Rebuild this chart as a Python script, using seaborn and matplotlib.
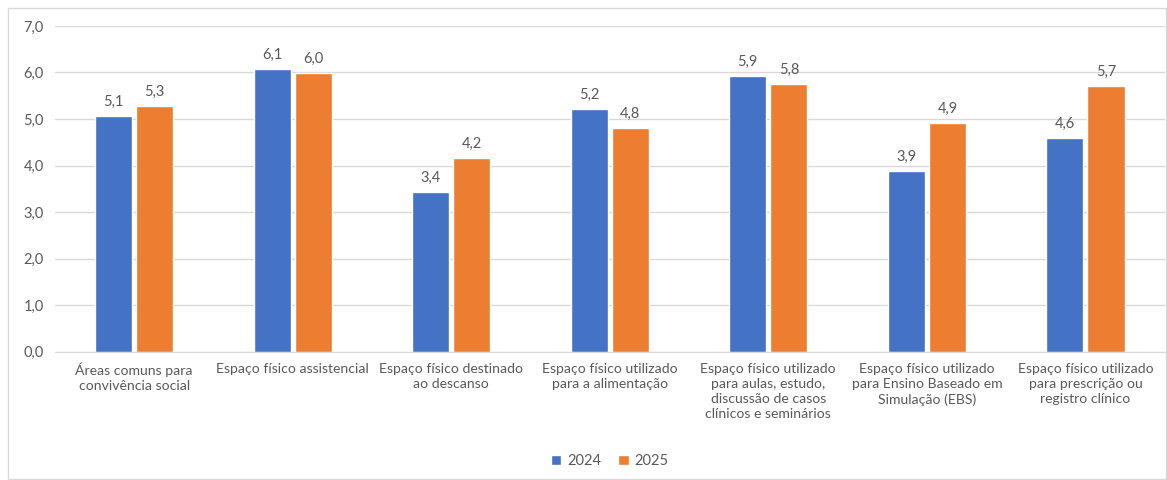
import pandas as pd
import seaborn as sns
import matplotlib.pyplot as plt
from matplotlib.patches import Rectangle

categories = [
    "Áreas comuns para\nconvivência social",
    "Espaço físico assistencial",
    "Espaço físico destinado\nao descanso",
    "Espaço físico utilizado\npara a alimentação",
    "Espaço físico utilizado\npara aulas, estudo,\ndiscussão de casos\nclínicos e seminários",
    "Espaço físico utilizado\npara Ensino Baseado em\nSimulação (EBS)",
    "Espaço físico utilizado\npara prescrição ou\nregistro clínico",
]
values_2024 = [5.06, 6.07, 3.44, 5.21, 5.92, 3.88, 4.59]
values_2025 = [5.28, 5.99, 4.16, 4.81, 5.76, 4.92, 5.72]
years = ["2024", "2025"]

df = pd.DataFrame({
    "categoria": categories * 2,
    "ano": [years[0]] * len(categories) + [years[1]] * len(categories),
    "valor": values_2024 + values_2025,
})

sns.set_style("white")
plt.rcParams["font.family"] = ["Lato", "DejaVu Sans"]
text_color = "#595959"

fig = plt.figure(figsize=(11.67, 4.8), dpi=100)
ax = fig.add_axes([0.047, 0.267, 0.951, 0.679])

sns.barplot(data=df, x="categoria", y="valor", hue="ano",
            palette=["#4472C4", "#ED7D31"], width=0.52, gap=0.1,
            saturation=1, ax=ax, legend=True)

for cont in ax.containers:
    ax.bar_label(cont, labels=[f"{v:.1f}".replace(".", ",") for v in cont.datavalues],
                 padding=5, fontsize=10.5, color=text_color)

ax.set_ylim(0, 7)
ax.set_yticks(range(0, 8))
ax.set_yticklabels([f"{v},0" for v in range(0, 8)], fontsize=10.5, color=text_color)
ax.set_xticks(range(len(categories)))
ax.set_xticklabels(categories, fontsize=10.1, color=text_color, linespacing=1.3)
ax.set_xlabel("")
ax.set_ylabel("")
ax.tick_params(axis="both", length=0, pad=8)
ax.yaxis.grid(True, color="#D9D9D9", linewidth=1)
ax.set_axisbelow(True)
for s in ["top", "right", "left"]:
    ax.spines[s].set_visible(False)
ax.spines["bottom"].set_color("#D9D9D9")
ax.set_xlim(-0.5, len(categories) - 0.5)

handles, labels = ax.get_legend_handles_labels()
ax.legend(handles, labels, loc="center", bbox_to_anchor=(0.5, -0.335),
          ncol=2, frameon=False, fontsize=10.5, labelcolor=text_color,
          handlelength=0.7, handleheight=0.7, handletextpad=0.4, columnspacing=1.2)

fig.patches.append(Rectangle((0.007, 0.002), 0.992, 0.982, transform=fig.transFigure,
                             fill=False, edgecolor="#D9D9D9", linewidth=1))

fig.savefig("out.png", dpi=100)
